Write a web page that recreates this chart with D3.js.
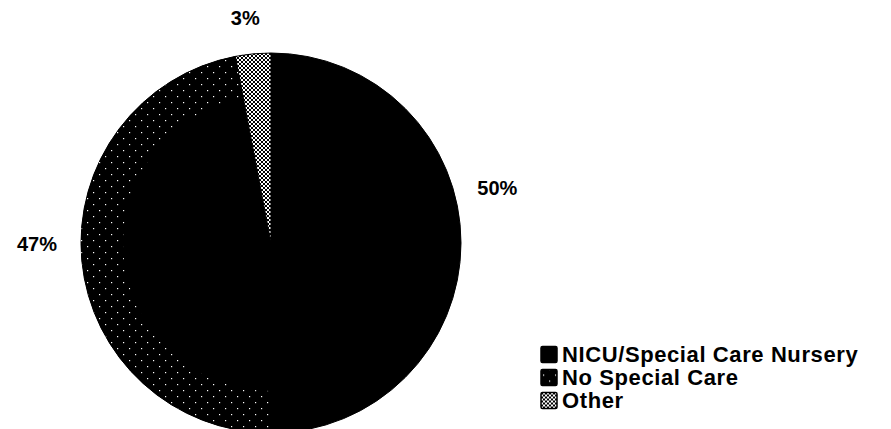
<!DOCTYPE html>
<html>
<head>
<meta charset="utf-8">
<script src="https://cdn.jsdelivr.net/npm/d3@7"></script>
<style>
  html, body { margin: 0; padding: 0; background: #fff; }
  svg { display: block; }
  text { font-family: "Liberation Sans", Arial, Helvetica, sans-serif; font-weight: bold; fill: #000; }
</style>
</head>
<body>
<svg id="chart" width="891" height="429"></svg>
<script>
// Where babies were cared for after birth (percent of total)
const categories = ["NICU/Special Care Nursery", "No Special Care", "Other"];
const shares = [50, 47, 3];
const shareLabels = ["50%", "47%", "3%"];
const fills = ["#000", "url(#diagDots)", "url(#checker)"];

const W = 891, H = 429;
const cx = 271, cy = 243, R = 190;

const svg = d3.select("#chart");
const defs = svg.append("defs");

// Black with sparse white flecks running along "/" diagonals
const diag = defs.append("pattern").attr("id", "diagDots")
  .attr("patternUnits", "userSpaceOnUse").attr("width", 12).attr("height", 12);
diag.append("rect").attr("width", 12).attr("height", 12).attr("fill", "#000");
diag.append("rect").attr("x", 2).attr("y", 9).attr("width", 1.2).attr("height", 1.2).attr("fill", "#fff");
diag.append("rect").attr("x", 8).attr("y", 3).attr("width", 1.2).attr("height", 1.2).attr("fill", "#fff");

// Fine diagonal checker texture
const checker = defs.append("pattern").attr("id", "checker")
  .attr("patternUnits", "userSpaceOnUse").attr("width", 4).attr("height", 4);
checker.append("rect").attr("width", 4).attr("height", 4).attr("fill", "#fff");
checker.append("rect").attr("x", 0).attr("y", 0).attr("width", 2).attr("height", 2).attr("fill", "#000");
checker.append("rect").attr("x", 2).attr("y", 2).attr("width", 2).attr("height", 2).attr("fill", "#000");

const data = categories.map((c, i) => ({ category: c, value: shares[i], label: shareLabels[i], fill: fills[i] }));

const pie = d3.pie().sort(null).value(d => d.value);
const arc = d3.arc().innerRadius(0).outerRadius(R);
// the flecked texture of the middle slice shows mostly in a band near the rim
const rimBand = d3.arc().innerRadius(R - 42).outerRadius(R);
const arcs = pie(data);

const g = svg.append("g").attr("transform", `translate(${cx},${cy})`);

g.selectAll("path.slice")
  .data(arcs)
  .join("path")
  .attr("class", "slice")
  .attr("d", arc)
  .attr("fill", d => d.data.fill === "url(#diagDots)" ? "#000" : d.data.fill)
  .attr("stroke", "#000")
  .attr("stroke-width", 1);

g.selectAll("path.band")
  .data(arcs.filter(d => d.data.fill === "url(#diagDots)"))
  .join("path")
  .attr("class", "band")
  .attr("d", rimBand)
  .attr("fill", d => d.data.fill);

// Percentage labels sit outside the rim; the angle is shifted per slice
const labelArcR = 230;
const angleShift = { "NICU/Special Care Nursery": -0.24, "No Special Care": 0.09, "Other": -0.02 };
const radiusShift = { "NICU/Special Care Nursery": 3, "No Special Care": 4, "Other": -4 };
g.selectAll("text.pct")
  .data(arcs)
  .join("text")
  .attr("class", "pct")
  .attr("text-anchor", "middle")
  .attr("dominant-baseline", "central")
  .style("font-size", "20px")
  .attr("x", d => {
    const a = (d.startAngle + d.endAngle) / 2 + angleShift[d.data.category];
    return Math.sin(a) * (labelArcR + radiusShift[d.data.category]);
  })
  .attr("y", d => {
    const a = (d.startAngle + d.endAngle) / 2 + angleShift[d.data.category];
    return -Math.cos(a) * (labelArcR + radiusShift[d.data.category]);
  })
  .text(d => d.data.label);

// Legend
const legendY = d3.scaleBand().domain(categories).range([343, 412]).paddingInner(0);
const legend = svg.append("g").attr("transform", "translate(541,0)");
const item = legend.selectAll("g.item").data(data).join("g")
  .attr("class", "item")
  .attr("transform", d => `translate(0,${legendY(d.category) + legendY.bandwidth() / 2})`);

item.append("rect")
  .attr("x", 0).attr("y", -8)
  .attr("width", 16).attr("height", 16)
  .attr("rx", 1.5)
  .attr("fill", d => d.fill)
  .attr("stroke", "#000").attr("stroke-width", 1.5);

item.append("text")
  .attr("x", 21)
  .attr("dominant-baseline", "central")
  .style("font-size", "22px")
  .style("letter-spacing", "0.6px")
  .text(d => d.category);
</script>
</body>
</html>
